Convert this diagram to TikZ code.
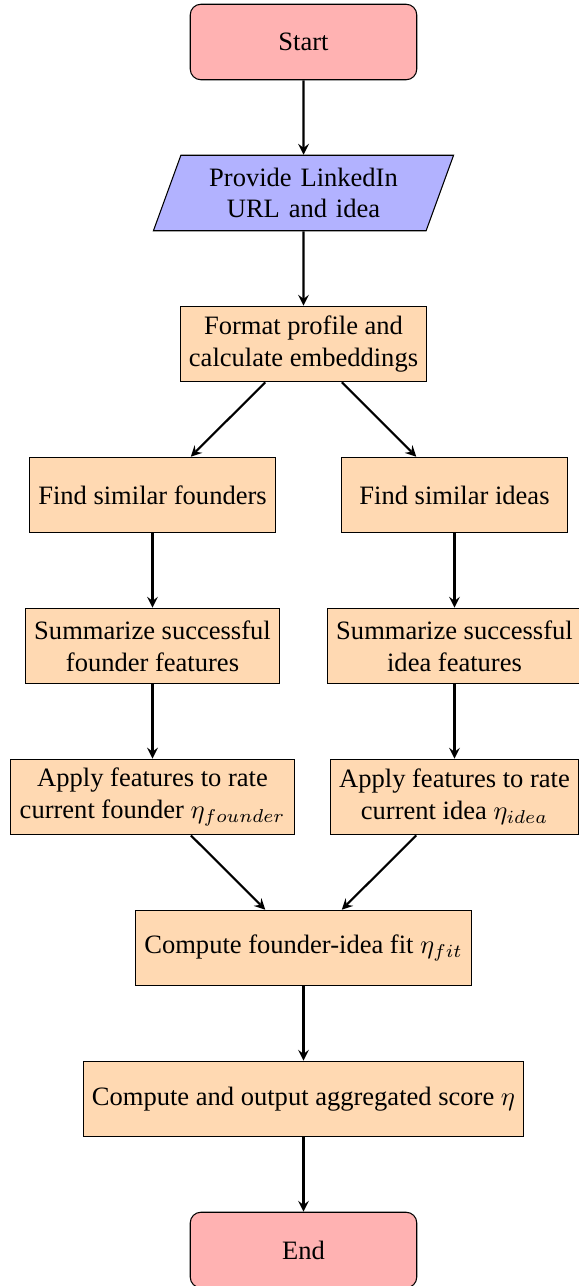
\documentclass[tikz,border=0pt]{standalone}
\usepackage{fontspec}
\setmainfont{Liberation Serif}
\usetikzlibrary{shapes.geometric, arrows, positioning}

\tikzset{
    startstop/.style={rectangle, rounded corners, minimum width=3cm, minimum height=1cm, align=center, draw=black, fill=red!30},
    io/.style={trapezium, trapezium left angle=70, trapezium right angle=110, minimum width=3cm, minimum height=1cm, text width=2.7cm, align=center, draw=black, fill=blue!30},
    process/.style={rectangle, minimum width=3cm, minimum height=1cm, align=center, draw=black, fill=orange!30},
    arrow/.style={thick, ->, >=stealth}
}

\begin{document}
\begin{tikzpicture}[node distance=2cm, on grid]

    % Frame
    \useasboundingbox (-4.02,0.556) rectangle (3.636,-16.477);

    % Nodes
    \node (start) [startstop] {Start};
    \node (input) [io, below=of start] {Provide LinkedIn URL and idea};
    \node (format) [process, below=of input] {Format profile and\\calculate embeddings};
    \node (founders) [process, below left=2cm and 2cm of format] {Find similar founders};
    \node (ideas) [process, below right=2cm and 2cm of format] {Find similar ideas};
    \node (sumfounder) [process, below=of founders] {Summarize successful\\founder features};
    \node (sumidea) [process, below=of ideas] {Summarize successful\\idea features};
    \node (ratefounder) [process, below=of sumfounder] {Apply features to rate\\current founder $\eta_{founder}$};
    \node (rateidea) [process, below=of sumidea] {Apply features to rate\\current idea $\eta_{idea}$};
    \node (fit) [process, below right=2cm and 2cm of ratefounder] {Compute founder-idea fit $\eta_{fit}$};
    \node (score) [process, below=of fit] {Compute and output aggregated score $\eta$};
    \node (stop) [startstop, below=of score] {End};

    % Arrows
    \draw [arrow] (start) -- (input);
    \draw [arrow] (input) -- (format);
    \draw [arrow] (format) -- (founders);
    \draw [arrow] (format) -- (ideas);
    \draw [arrow] (founders) -- (sumfounder);
    \draw [arrow] (ideas) -- (sumidea);
    \draw [arrow] (sumfounder) -- (ratefounder);
    \draw [arrow] (sumidea) -- (rateidea);
    \draw [arrow] (ratefounder) -- (fit);
    \draw [arrow] (rateidea) -- (fit);
    \draw [arrow] (fit) -- (score);
    \draw [arrow] (score) -- (stop);

\end{tikzpicture}
\end{document}
